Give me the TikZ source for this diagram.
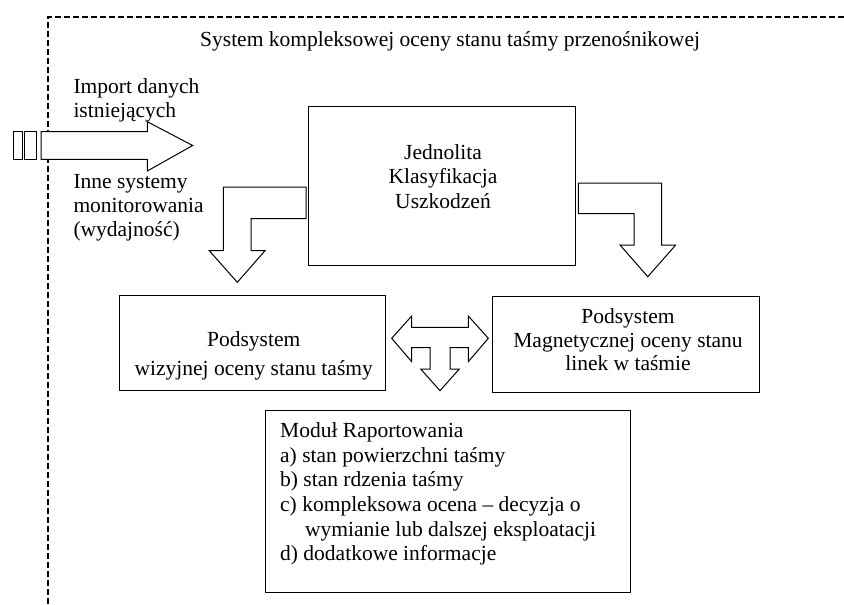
\documentclass[tikz,border=0pt]{standalone}
\usepackage{fontspec}
\setmainfont{Liberation Serif}
\begin{document}
\begin{tikzpicture}[x=1pt,y=-1pt,
  txt/.style={font=\fontsize{21.5}{24.5}\selectfont, inner sep=0pt},
  box/.style={draw=black, line width=1pt, inner sep=0pt, fill=none},
  blockarrow/.style={draw=black, line width=1pt, line join=miter, fill=white},
  border/.style={line width=2.2pt, dash pattern=on 6pt off 3pt}]
\useasboundingbox (0,0) rectangle (844,605);

% dashed system border
\coordinate (bTR) at (844,17);
\coordinate (bTL) at (48,17);
\coordinate (bBL) at (48,605);
\draw[border] (bTR) -- (bTL) -- (bBL);

% title
\node[txt, anchor=base west] (title) at (200,46) {System kompleksowej oceny stanu taśmy przenośnikowej};

% left input arrow
\draw[blockarrow] (13.3,131.7) rectangle (22.7,159.3);
\draw[blockarrow] (24.3,131.7) rectangle (36,159.3);
\draw[blockarrow] (41,131.7) -- (147.3,131.7) -- (147.3,121.7) -- (192.7,145.5)
  -- (147.3,171) -- (147.3,159.3) -- (41,159.3) -- cycle;

\node[txt, anchor=base west] (imp1) at (73.3,93.3) {Import danych};
\node[txt, anchor=base west] (imp2) at (73.3,117.3) {istniejących};
\node[txt, anchor=base west] (inne1) at (73.3,188.3) {Inne systemy};
\node[txt, anchor=base west] (inne2) at (73.3,212.3) {monitorowania};
\node[txt, anchor=base west] (inne3) at (73.3,236.3) {(wydajność)};

% central box
\node[box, minimum width=267.4pt, minimum height=158.3pt] (jku) at (442,185.85) {};
\node[txt, anchor=base] (jku1) at (443,159.3) {Jednolita};
\node[txt, anchor=base] (jku2) at (443,183.6) {Klasyfikacja};
\node[txt, anchor=base] (jku3) at (443,208) {Uszkodzeń};

% bent arrow left
\draw[blockarrow] (306,187) -- (223.3,187) -- (223.3,250.7) -- (209.3,250.7)
  -- (237.3,282.3) -- (265,250.7) -- (251,250.7) -- (251,218.5) -- (306,218.5) -- cycle;

% bent arrow right
\draw[blockarrow] (578.3,183) -- (661.7,183) -- (661.7,245) -- (675.7,245)
  -- (647.8,276.7) -- (620,245) -- (634,245) -- (634,213.5) -- (578.3,213.5) -- cycle;

% left subsystem box
\node[box, minimum width=266.4pt, minimum height=95pt] (wiz) at (252.5,343.2) {};
\node[txt, anchor=base] (wiz1) at (253.7,346.7) {Podsystem};
\node[txt, anchor=base] (wiz2) at (253.7,375.2) {wizyjnej oceny stanu taśmy};

% right subsystem box
\node[box, minimum width=266.6pt, minimum height=96.3pt] (mag) at (626,344.15) {};
\node[txt, anchor=base] (mag1) at (628,323.3) {Podsystem};
\node[txt, anchor=base] (mag2) at (628,347.3) {Magnetycznej oceny stanu};
\node[txt, anchor=base] (mag3) at (628,370.9) {linek w taśmie};

% three-way arrow
\draw[blockarrow] (391.7,338.3) -- (411.7,316) -- (411.7,327.3) -- (468.3,327.3)
  -- (468.3,316) -- (488.3,338.3) -- (468.3,361.7) -- (468.3,347.7) -- (450,347.7)
  -- (450,369) -- (459.3,369) -- (440,390.7) -- (420.7,369) -- (430,369)
  -- (430,347.7) -- (411.7,347.7) -- (411.7,361.7) -- cycle;

% report module
\node[box, minimum width=365pt, minimum height=182.7pt] (rap) at (447.5,501.35) {};
\node[txt, anchor=base west] (rap0) at (280,437.3) {Moduł Raportowania};
\node[txt, anchor=base west] (rapa) at (280,462) {a) stan powierzchni taśmy};
\node[txt, anchor=base west] (rapb) at (280,486.7) {b) stan rdzenia taśmy};
\node[txt, anchor=base west] (rapc) at (280,511.3) {c) kompleksowa ocena – decyzja o};
\node[txt, anchor=base west] (rapc2) at (305,536) {wymianie lub dalszej eksploatacji};
\node[txt, anchor=base west] (rapd) at (280,560.7) {d) dodatkowe informacje};
\end{tikzpicture}
\end{document}
